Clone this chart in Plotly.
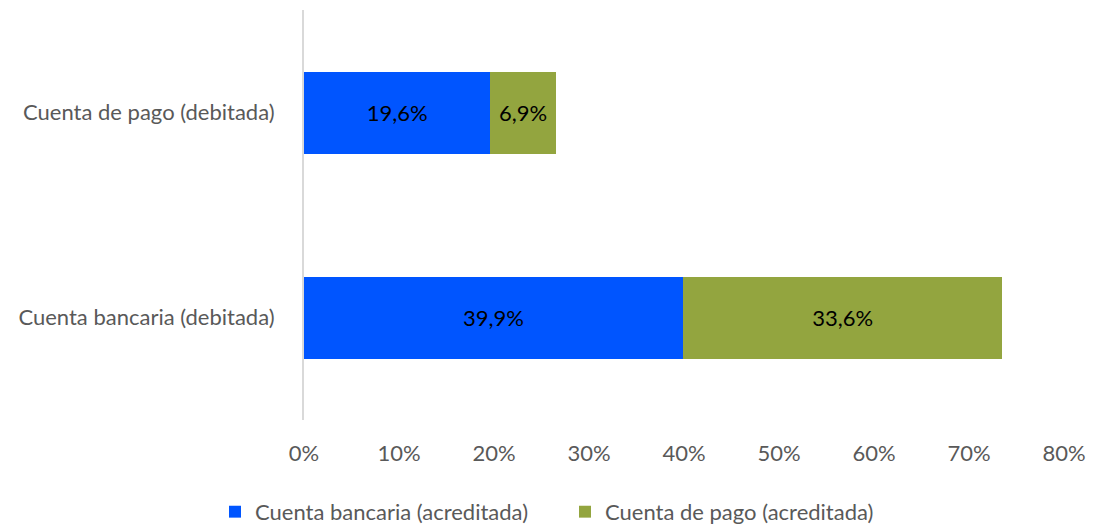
import plotly.graph_objects as go

categories = ["Cuenta bancaria (debitada)", "Cuenta de pago (debitada)"]
series_names = ["Cuenta bancaria (acreditada)", "Cuenta de pago (acreditada)"]
bancaria_vals = [39.9, 19.6]
pago_vals = [33.6, 6.9]
tick_vals = [0, 10, 20, 30, 40, 50, 60, 70, 80]
tick_text = [f"{v}%" for v in tick_vals]

colors = ["#0055FF", "#93A53F"]
FONT = "Lato"
FS = 22

def fmt(v):
    return f"{v:.1f}%".replace(".", ",")

fig = go.Figure()
for name, vals, col in zip(series_names, [bancaria_vals, pago_vals], colors):
    fig.add_trace(go.Bar(
        y=categories, x=vals, name=name, orientation="h",
        marker=dict(color=col, line=dict(width=0)),
        text=[fmt(v) for v in vals], textposition="inside",
        insidetextanchor="middle", textangle=0,
        textfont=dict(color="black", size=FS, family=FONT),
        constraintext="none",
    ))

fig.update_layout(
    barmode="stack", bargap=0.6,
    width=1094, height=530,
    margin=dict(l=304, r=30, t=10, b=110, autoexpand=False),
    paper_bgcolor="white", plot_bgcolor="white",
    font=dict(family=FONT, size=FS, color="#595959"),
    legend=dict(orientation="h", traceorder="normal",
                x=(215 - 304) / 760, xanchor="left", y=-0.224, yanchor="middle",
                font=dict(size=FS, color="#595959"), itemwidth=30,
                entrywidth=305, entrywidthmode="pixels"),
    xaxis=dict(range=[0, 80], tickvals=tick_vals, ticktext=tick_text,
               showgrid=False, zeroline=False, showline=False, automargin=False,
               ticklabelstandoff=18, tickfont=dict(size=FS, color="#595959")),
    yaxis=dict(showline=True, linecolor="#D9D9D9", linewidth=2, automargin=False,
               showgrid=False, ticklabelstandoff=23,
               tickfont=dict(size=FS, color="#595959")),
)

fig.write_html("out.html", config={"displayModeBar": False},
               post_script="document.body.style.margin='0';")
